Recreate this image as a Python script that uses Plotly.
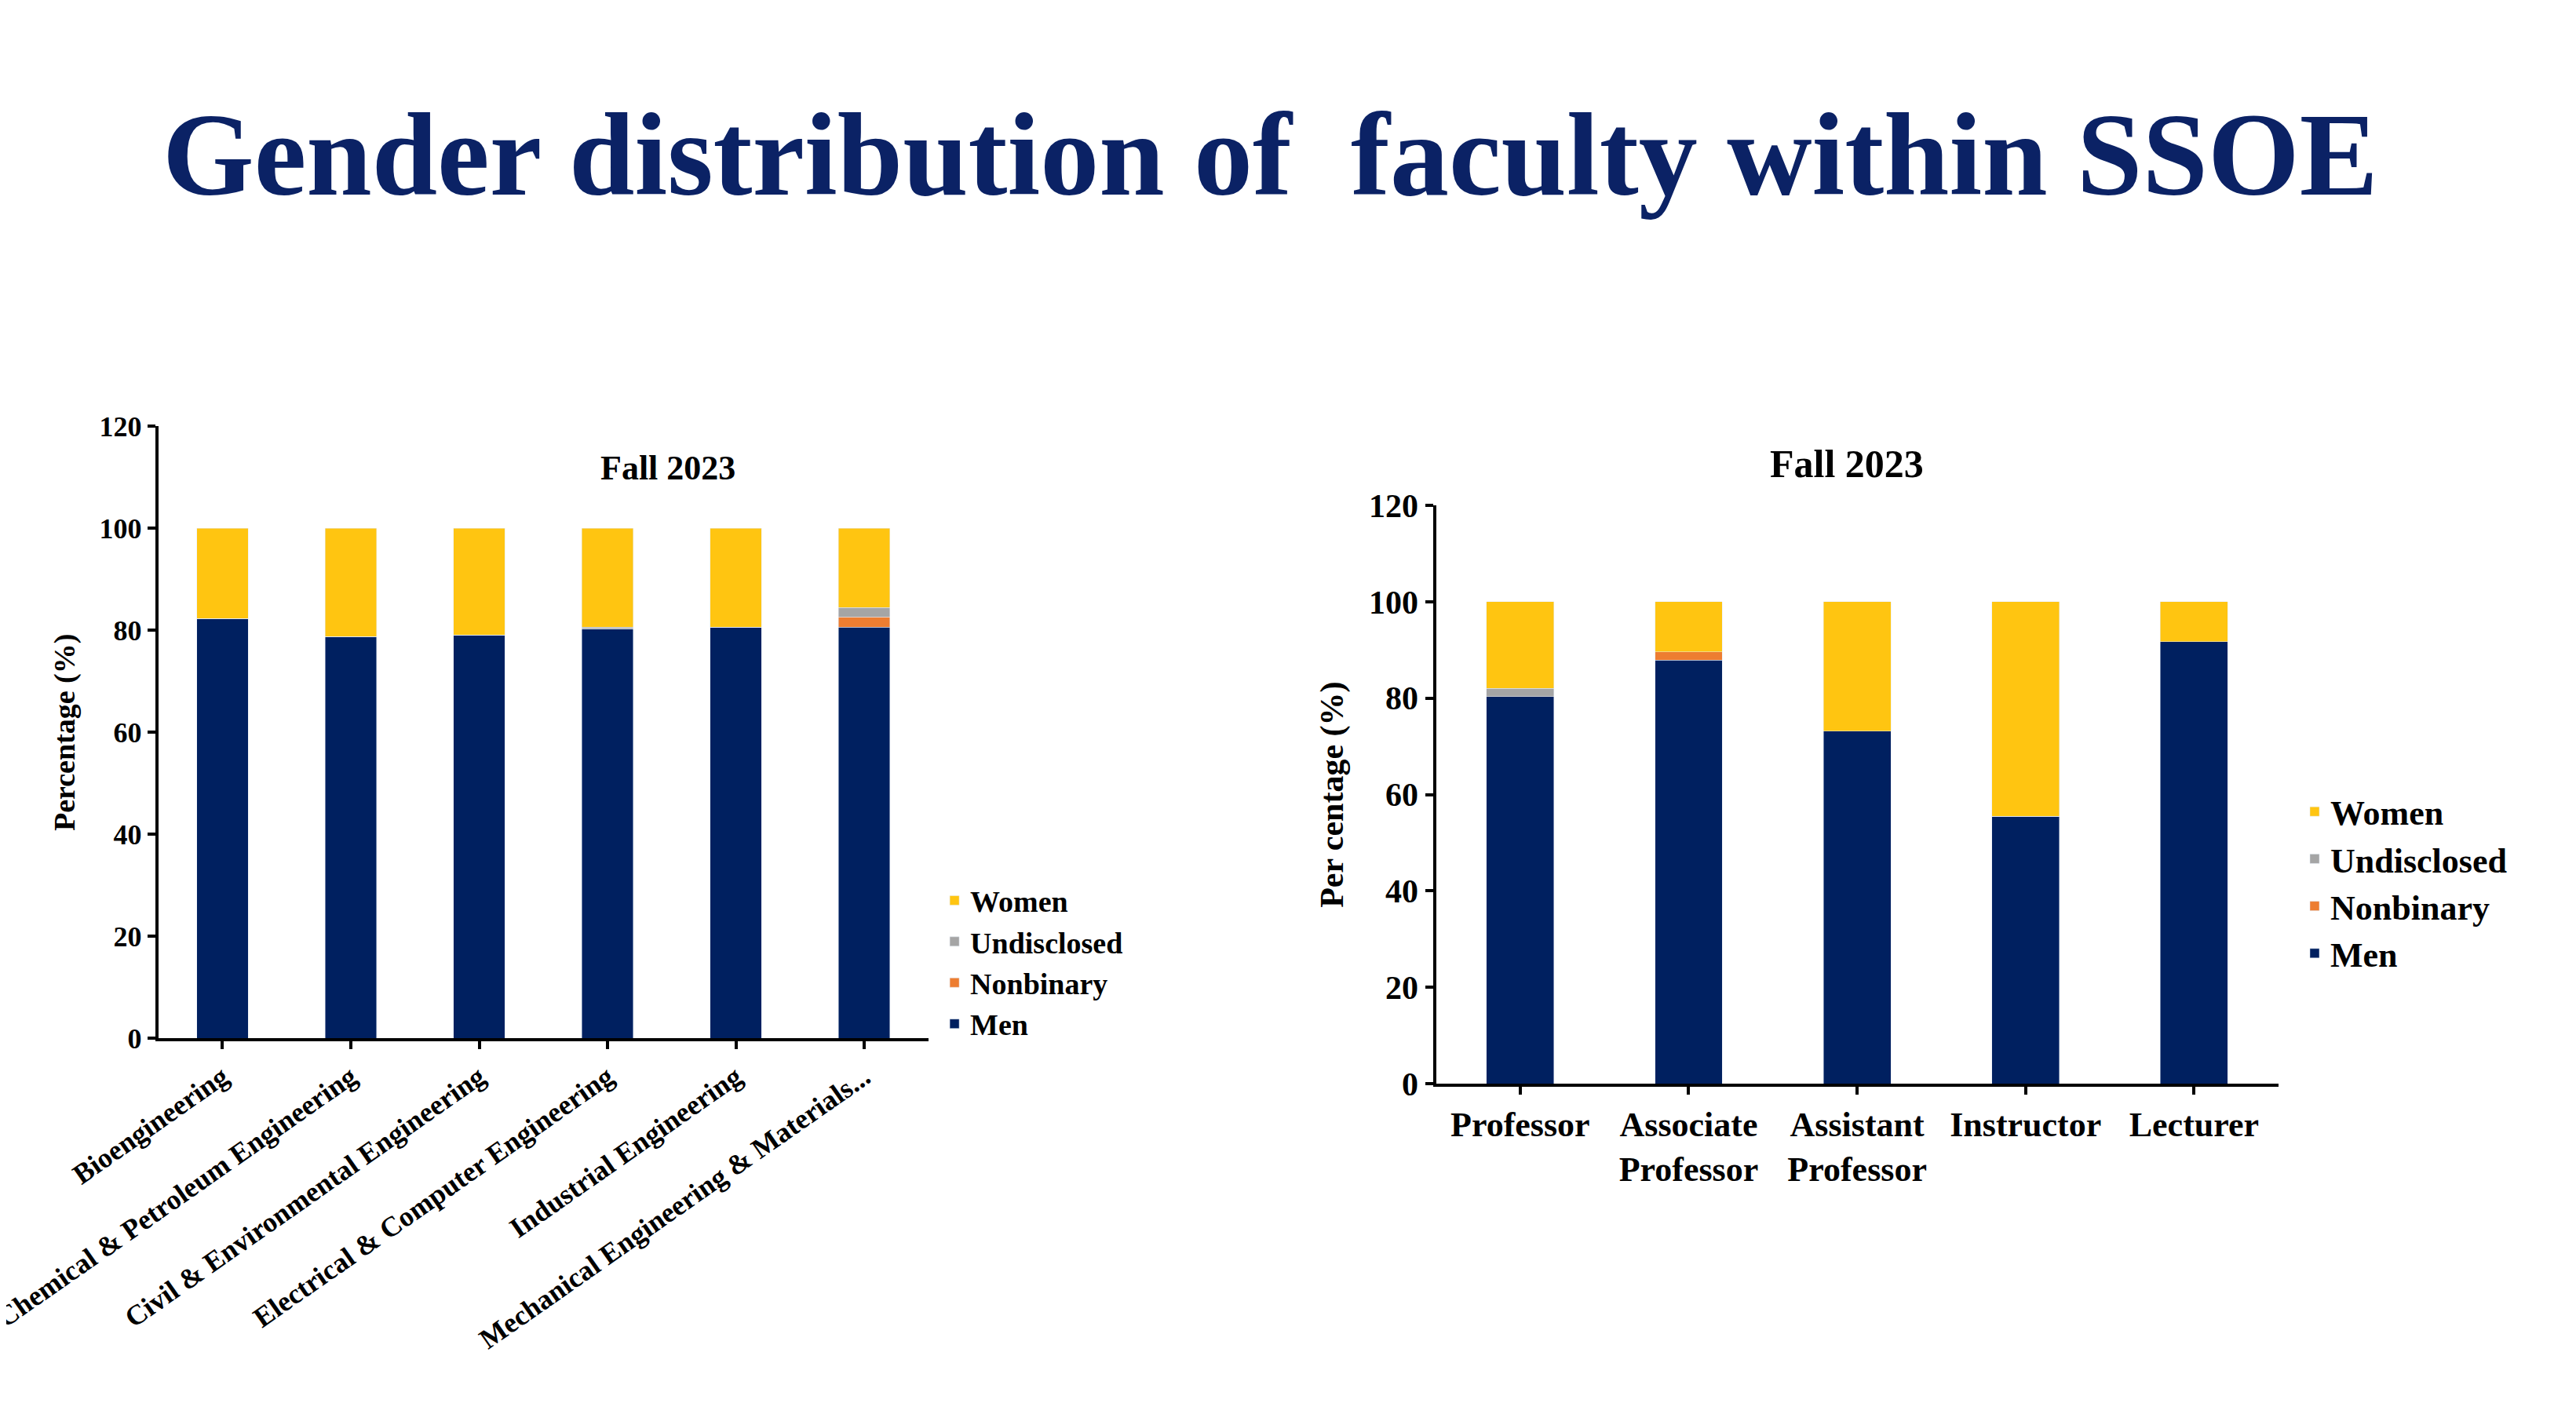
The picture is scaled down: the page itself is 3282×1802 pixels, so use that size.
import plotly.graph_objects as go

depts = ["Bioengineering", "Chemical & Petroleum Engineering", "Civil & Environmental Engineering",
         "Electrical & Computer Engineering", "Industrial Engineering", "Mechanical Engineering & Materials..."]
d_men = [82.3, 78.8, 79.1, 80.3, 80.6, 80.6]
d_nonbinary = [0, 0, 0, 0, 0, 2.0]
d_undisclosed = [0, 0, 0, 0.3, 0, 1.9]
d_women = [100 - a - b - c for a, b, c in zip(d_men, d_nonbinary, d_undisclosed)]

ranks = ["Professor", "Associate<br>Professor", "Assistant<br>Professor", "Instructor", "Lecturer"]
r_men = [80.3, 87.9, 73.2, 55.5, 91.7]
r_nonbinary = [0, 1.7, 0, 0, 0]
r_undisclosed = [1.7, 0, 0, 0, 0]
r_women = [100 - a - b - c for a, b, c in zip(r_men, r_nonbinary, r_undisclosed)]

series = ["Men", "Nonbinary", "Undisclosed", "Women"]
colors = {"Men": "#002060", "Nonbinary": "#ED7D31", "Undisclosed": "#A5A5A5", "Women": "#FFC511"}

FONT = "Liberation Serif"
fig = go.Figure()
for name, vals in zip(series, [d_men, d_nonbinary, d_undisclosed, d_women]):
    fig.add_bar(x=depts, y=vals, name=name, marker_color=colors[name], width=0.4,
                xaxis="x", yaxis="y", legend="legend")
for name, vals in zip(series, [r_men, r_nonbinary, r_undisclosed, r_women]):
    fig.add_bar(x=ranks, y=vals, name=name, marker_color=colors[name], width=0.4,
                xaxis="x2", yaxis="y2", legend="legend2")

def ax(size):
    return dict(showline=True, linecolor="black", linewidth=4, ticks="outside", automargin=False,
                ticklen=10, tickwidth=4, tickcolor="black", showgrid=False,
                tickfont=dict(family=FONT, size=size, color="black", weight="bold"))

fig.update_layout(
    width=3282, height=1802, barmode="stack", plot_bgcolor="white", paper_bgcolor="white",
    margin=dict(l=0, r=0, t=0, b=0, autoexpand=False), font=dict(family=FONT, color="black"),
    xaxis=dict(domain=[0.059, 0.358], anchor="y", tickangle=-35, **ax(36)),
    yaxis=dict(domain=[0.270, 0.703], anchor="x", range=[0, 120], dtick=20,
               title=dict(text="<b>Percentage (%)</b>", standoff=20,
                          font=dict(family=FONT, size=38, color="black")), **ax(36)),
    xaxis2=dict(domain=[0.555, 0.882], anchor="y2", tickangle=0, **ax(44)),
    yaxis2=dict(domain=[0.238, 0.647], anchor="x2", range=[0, 120], dtick=20,
                title=dict(text="<b>Per centage (%)</b>", standoff=20,
                           font=dict(family=FONT, size=42, color="black")), **ax(42)),
    legend=dict(x=0.362, y=0.385, xanchor="left", yanchor="top", traceorder="reversed",
                font=dict(family=FONT, size=38, color="black", weight="bold"),
                itemwidth=30, tracegroupgap=0),
    legend2=dict(x=0.89, y=0.45, xanchor="left", yanchor="top", traceorder="reversed",
                 font=dict(family=FONT, size=44, color="black", weight="bold"),
                 itemwidth=30, tracegroupgap=0),
    annotations=[
        dict(text="<b>Gender distribution of  faculty within SSOE</b>", x=0.06, y=0.895,
             xref="paper", yref="paper", xanchor="left", yanchor="middle", showarrow=False,
             font=dict(family=FONT, size=150, color="#0B2265")),
        dict(text="<b>Fall 2023</b>", x=0.230, y=0.688, xref="paper", yref="paper",
             showarrow=False, font=dict(family=FONT, size=44, color="black")),
        dict(text="<b>Fall 2023</b>", x=0.745, y=0.693, xref="paper", yref="paper",
             showarrow=False, font=dict(family=FONT, size=50, color="black")),
    ],
)
fig.write_html("out.html")
